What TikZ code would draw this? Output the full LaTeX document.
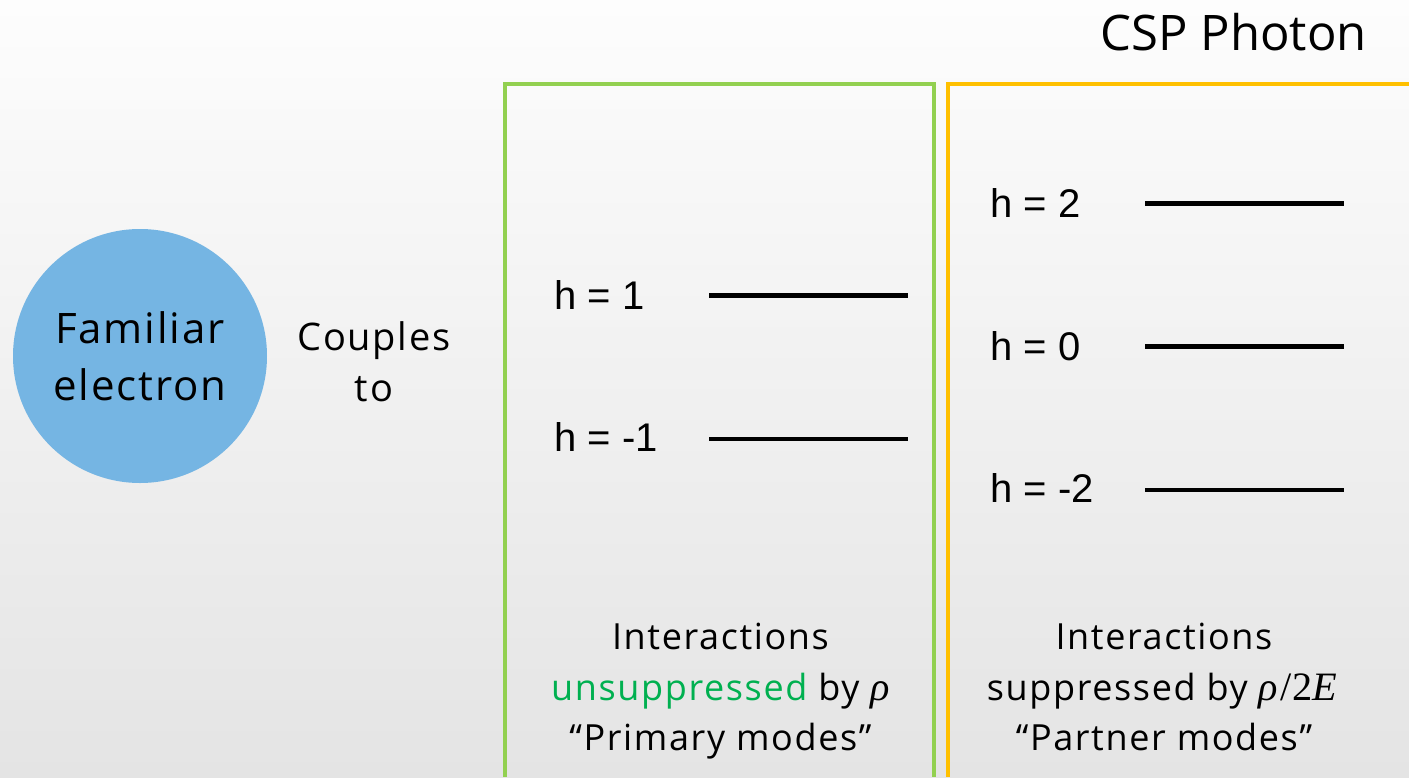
\documentclass[tikz,border=0pt]{standalone}
\usepackage{fontspec}
\setmainfont{Open Sans}
\newfontfamily\spaced{Open Sans}[LetterSpace=4.5]
\newfontfamily\arialfont{Liberation Sans}
\newfontfamily\mathlike{Liberation Serif}[Scale=1.12]
\newcommand{\mvar}[1]{{\mathlike\itshape #1}}
\definecolor{bluefill}{HTML}{75B5E3}
\definecolor{greenframe}{HTML}{92D050}
\definecolor{orangeframe}{HTML}{FFC000}
\definecolor{greentext}{HTML}{00B050}
\definecolor{bgtop}{HTML}{FDFDFD}
\definecolor{bgbot}{HTML}{E4E4E4}
\tikzset{
  frameline/.style={line width=4pt},
  levelline/.style={line width=4.5pt, black},
  hlabel/.style={anchor=base west, inner sep=0pt, font=\arialfont\fontsize{40}{46}\selectfont},
  captext/.style={anchor=base, inner sep=0pt, font=\spaced\fontsize{36}{40}\selectfont},
}
\begin{document}
\begin{tikzpicture}[x=1pt,y=-1pt]
\useasboundingbox (0,0) rectangle (1409,777);
\shade[top color=bgtop, bottom color=bgbot] (0,0) rectangle (1409,777);

% title
\node[anchor=base east, inner sep=0pt, font=\fontsize{49}{56}\selectfont] (title) at (1367,50) {CSP Photon};

% electron
\node[circle, fill=bluefill, minimum size=254pt, inner sep=0pt, align=center,
      font=\spaced\fontsize{42}{57}\selectfont] (elec) at (140,356) {Familiar\\electron};

% couples to
\node[anchor=base, inner sep=0pt, font=\spaced\fontsize{38}{50}\selectfont] (cpl1) at (374,350.5) {Couples};
\node[anchor=base, inner sep=0pt, font=\spaced\fontsize{38}{50}\selectfont] (cpl2) at (374,401.5) {to};

% frames
\coordinate (g1) at (505.3,777);
\coordinate (g2) at (505.3,83.7);
\coordinate (g3) at (933.7,83.7);
\coordinate (g4) at (933.7,777);
\draw[frameline, greenframe] (g1) -- (g2) -- (g3) -- (g4);
\coordinate (o1) at (947.7,777);
\coordinate (o2) at (947.7,83.7);
\coordinate (o3) at (1409,83.7);
\draw[frameline, orangeframe] (o1) -- (o2) -- (o3);

% primary levels
\node[hlabel] (hp1) at (554,309) {h = 1};
\node[hlabel] (hm1) at (554,451.5) {h = -1};
\coordinate (a1) at (709,295.7); \coordinate (b1) at (908,295.7);
\coordinate (a2) at (709,438.8); \coordinate (b2) at (908,438.8);
\draw[levelline] (a1) -- (b1);
\draw[levelline] (a2) -- (b2);

% partner levels
\node[hlabel] (hp2) at (990,217.7) {h = 2};
\node[hlabel] (h0) at (990,360.5) {h = 0};
\node[hlabel] (hm2) at (990,502) {h = -2};
\coordinate (c1) at (1145,203.3); \coordinate (d1) at (1344,203.3);
\coordinate (c2) at (1145,346.7); \coordinate (d2) at (1344,346.7);
\coordinate (c3) at (1145,490); \coordinate (d3) at (1344,490);
\draw[levelline] (c1) -- (d1);
\draw[levelline] (c2) -- (d2);
\draw[levelline] (c3) -- (d3);

% captions
\node[captext] (pl1) at (720.5,649.3) {Interactions};
\node[captext] (pl2) at (720.5,700) {\textcolor{greentext}{unsuppressed} by \mvar{ρ}};
\node[captext] (pl3) at (720.5,750.5) {“Primary modes”};
\node[captext] (ql1) at (1164,649.3) {Interactions};
\node[captext] (ql2) at (1162,700) {suppressed by \mvar{ρ}\kern2pt{\mathlike/}\kern1pt{\mathlike 2}\mvar{E}};
\node[captext] (ql3) at (1164,750.5) {“Partner modes”};
\end{tikzpicture}
\end{document}
